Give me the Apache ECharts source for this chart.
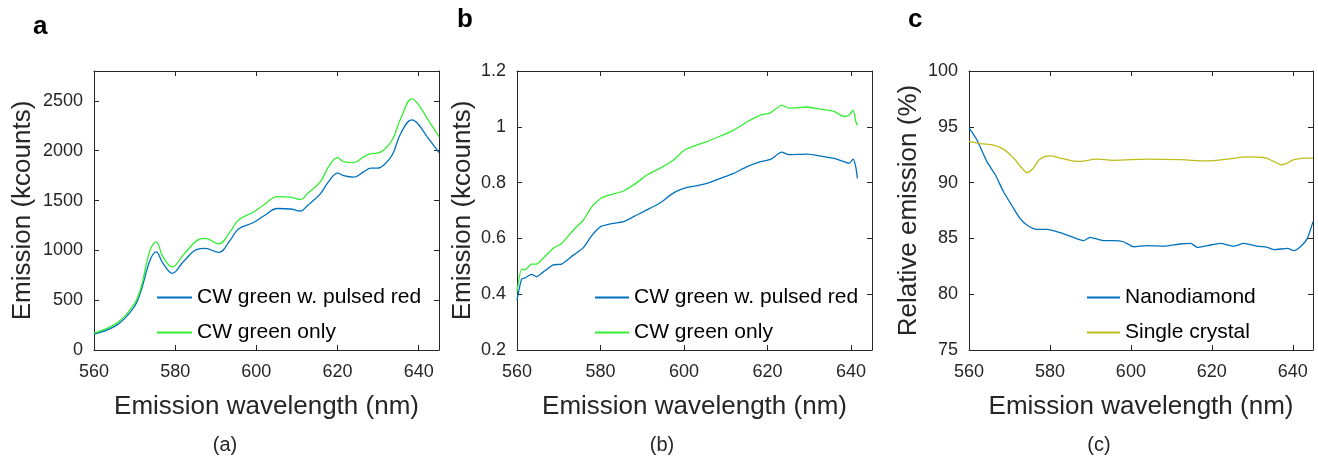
<!DOCTYPE html>
<html><head><meta charset="utf-8">
<script src="https://cdn.jsdelivr.net/npm/echarts@6/dist/echarts.min.js"></script>
<style>html,body{margin:0;padding:0;background:#fff}#c{width:1318px;height:460px}</style>
</head><body><div id="c"></div>
<script>
// Panel a
const wlA = [560,565.6,569.7,571.4,573.8,575.3,577,579.3,582,585.4,587.4,590.7,593.6,595.6,599.3,601.8,605.2,608.4,610.9,612.6,615.8,617.8,620,621.5,624,626.5,628.2,629.8,631.5,633.5,635.6,638.3,639.7,642.1,645];
const pulsedA = [160,250,420,570,900,985,870,770,885,1010,1020,980,1105,1215,1280,1345,1420,1415,1395,1450,1570,1690,1775,1750,1735,1790,1825,1825,1860,1960,2175,2310,2275,2140,1980];
const greenA = [170,270,450,600,1000,1085,935,835,955,1100,1120,1065,1190,1305,1385,1455,1540,1535,1510,1570,1690,1840,1930,1890,1880,1940,1970,1975,2010,2110,2325,2520,2475,2325,2140];
// Panel b
const wlB = [560,561.1,561.9,563.5,564.7,566.3,568.7,570.7,573.5,575.9,577.9,580.1,582.3,585.5,588.7,591.1,594.3,597.5,600.1,603.1,605.5,608.7,611.9,615.1,618.3,620.7,623.4,625.1,629.5,632.7,635.9,638.3,639.5,640.5,641.1,641.5];
const pulsedB = [0.379,0.454,0.458,0.471,0.463,0.48,0.505,0.508,0.54,0.567,0.61,0.643,0.652,0.66,0.684,0.702,0.728,0.763,0.78,0.789,0.797,0.815,0.833,0.857,0.875,0.883,0.909,0.9,0.902,0.895,0.887,0.875,0.869,0.884,0.857,0.815];
const greenB = [0.408,0.49,0.487,0.508,0.508,0.53,0.565,0.582,0.63,0.666,0.713,0.744,0.756,0.77,0.80,0.827,0.852,0.881,0.917,0.935,0.947,0.967,0.988,1.018,1.042,1.05,1.078,1.067,1.071,1.063,1.055,1.037,1.042,1.06,1.02,1.005];
// Panel c
const wlC1 = [560,562,564.4,566.5,568.5,571,572.6,574.3,576.8,579.2,581.7,585,588.3,589.9,593.2,595.7,598.2,600.7,604,608.1,612.2,614.8,616.4,618.9,622.1,625.4,627.9,631.2,633.7,635.4,638.7,640.3,642,643.6,645];
const nanoC = [94.9,93.8,91.9,90.7,89.2,87.7,86.8,86.2,85.8,85.8,85.6,85.2,84.8,85.1,84.8,84.8,84.7,84.25,84.35,84.3,84.5,84.55,84.2,84.35,84.55,84.3,84.55,84.3,84.2,84.0,84.1,83.9,84.3,85.0,86.5];
const wlC2 = [560,562.8,566.1,568.5,571,573.1,574.4,575.9,577.5,580,582.5,587.4,591.5,595.7,604,612.2,618.9,623.8,628.7,632.8,635.3,637.3,640.3,642.8,645];
const singleC = [93.7,93.5,93.35,93.0,92.2,91.3,90.9,91.3,92.1,92.4,92.2,91.9,92.1,92.0,92.1,92.05,91.95,92.1,92.3,92.25,91.9,91.6,92.05,92.2,92.2];
const xTicks = {min:560, max:645, interval:20};

const BLUE = '#0072BD', GREEN = '#33EE33', OLIVE = '#BDBD1E';
const AX = '#262626';
const FONT = 'Liberation Sans, Arial, sans-serif';

function pairs(x, y){ return x.map((v,i)=>[v,y[i]]); }

const grids = [
  {left:94, top:71, width:345, height:279},
  {left:517, top:71, width:355, height:279},
  {left:969, top:71, width:344, height:279}
];
const yCfg = [
  {min:0, max:2800, interval:500, name:'Emission (kcounts)', gap:58},
  {min:0.2, max:1.2, interval:0.2, name:'Emission (kcounts)', gap:41},
  {min:75, max:100, interval:5, name:'Relative emission (%)', gap:47}
];
const fmt = v => String(+v.toFixed(4));
const xAxes = [], yAxes = [];
grids.forEach((g,i)=>{
  xAxes.push({type:'value', gridIndex:i, position:'bottom', min:xTicks.min, max:xTicks.max, interval:xTicks.interval,
    name:'Emission wavelength (nm)', nameLocation:'middle', nameGap:44,
    nameTextStyle:{fontFamily:FONT, fontSize:26, color:AX},
    axisLine:{onZero:false, lineStyle:{color:AX, width:1}},
    axisTick:{inside:true, length:5, lineStyle:{color:AX}},
    axisLabel:{fontFamily:FONT, fontSize:18, color:AX, margin:13, showMaxLabel:false, formatter:fmt},
    splitLine:{show:false}});
  xAxes.push({type:'value', gridIndex:i, position:'top', min:xTicks.min, max:xTicks.max, interval:xTicks.interval,
    axisLine:{onZero:false, lineStyle:{color:AX, width:1}},
    axisTick:{inside:true, length:5, lineStyle:{color:AX}},
    axisLabel:{show:false}, splitLine:{show:false}});
  const y = yCfg[i];
  yAxes.push({type:'value', gridIndex:i, position:'left', min:y.min, max:y.max, interval:y.interval,
    name:y.name, nameLocation:'middle', nameGap:y.gap, nameRotate:90,
    nameTextStyle:{fontFamily:FONT, fontSize:26, color:AX},
    axisLine:{show:true, onZero:false, lineStyle:{color:AX, width:1}},
    axisTick:{show:true, inside:true, length:5, lineStyle:{color:AX}},
    axisLabel:{fontFamily:FONT, fontSize:18, color:AX, margin:11, showMaxLabel: i===0 ? false : true, formatter:fmt},
    splitLine:{show:false}});
  yAxes.push({type:'value', gridIndex:i, position:'right', min:y.min, max:y.max, interval:y.interval,
    axisLine:{show:true, onZero:false, lineStyle:{color:AX, width:1}},
    axisTick:{show:true, inside:true, length:5, lineStyle:{color:AX}},
    axisLabel:{show:false}, splitLine:{show:false}});
});

function line(name, data, color, g, smooth){
  return {type:'line', name, data, xAxisIndex:g*2, yAxisIndex:g*2, symbol:'none', smooth:smooth,
    lineStyle:{color, width:1.3}, itemStyle:{color}, animation:false, silent:true};
}

function legend(left, names, w){
  return {orient:'vertical', left, top:287, padding:0, itemWidth:w, itemHeight:2, itemGap:14, icon:'rect',
    selectedMode:false, data:names,
    textStyle:{fontFamily:FONT, fontSize:21, color:'#000'}};
}

const labels = [
  {t:'a', x:33, y:36},{t:'b', x:457, y:29},{t:'c', x:908, y:29}
];
const caps = [{t:'(a)', x:225},{t:'(b)', x:662},{t:'(c)', x:1099}];
const graphic = [];
labels.forEach(l=>graphic.push({type:'text', left:l.x, top:l.y-22, style:{text:l.t, font:'bold 26px '+FONT, fill:'#000'}}));
caps.forEach(c=>graphic.push({type:'text', x:c.x, y:445, style:{text:c.t, font:'20px '+FONT, fill:AX, textAlign:'center', textVerticalAlign:'middle'}}));

const chart = echarts.init(document.getElementById('c'), null, {renderer:'canvas'});
chart.setOption({
  animation:false,
  backgroundColor:'#fff',
  grid:grids,
  xAxis:xAxes,
  yAxis:yAxes,
  legend:[
    legend(157, ['CW green w. pulsed red','CW green only'], 35),
    legend(595, ['CW green w. pulsed red','CW green only'], 34),
    legend(1087, ['Nanodiamond','Single crystal'], 33)
  ],
  graphic,
  series:[
    line('CW green w. pulsed red', pairs(wlA,pulsedA), BLUE, 0, 0.4),
    line('CW green only', pairs(wlA,greenA), GREEN, 0, 0.4),
    line('CW green w. pulsed red', pairs(wlB,pulsedB), BLUE, 1, 0.2),
    line('CW green only', pairs(wlB,greenB), GREEN, 1, 0.2),
    line('Nanodiamond', pairs(wlC1,nanoC), BLUE, 2, 0.2),
    line('Single crystal', pairs(wlC2,singleC), OLIVE, 2, 0.4)
  ]
});
</script></body></html>
